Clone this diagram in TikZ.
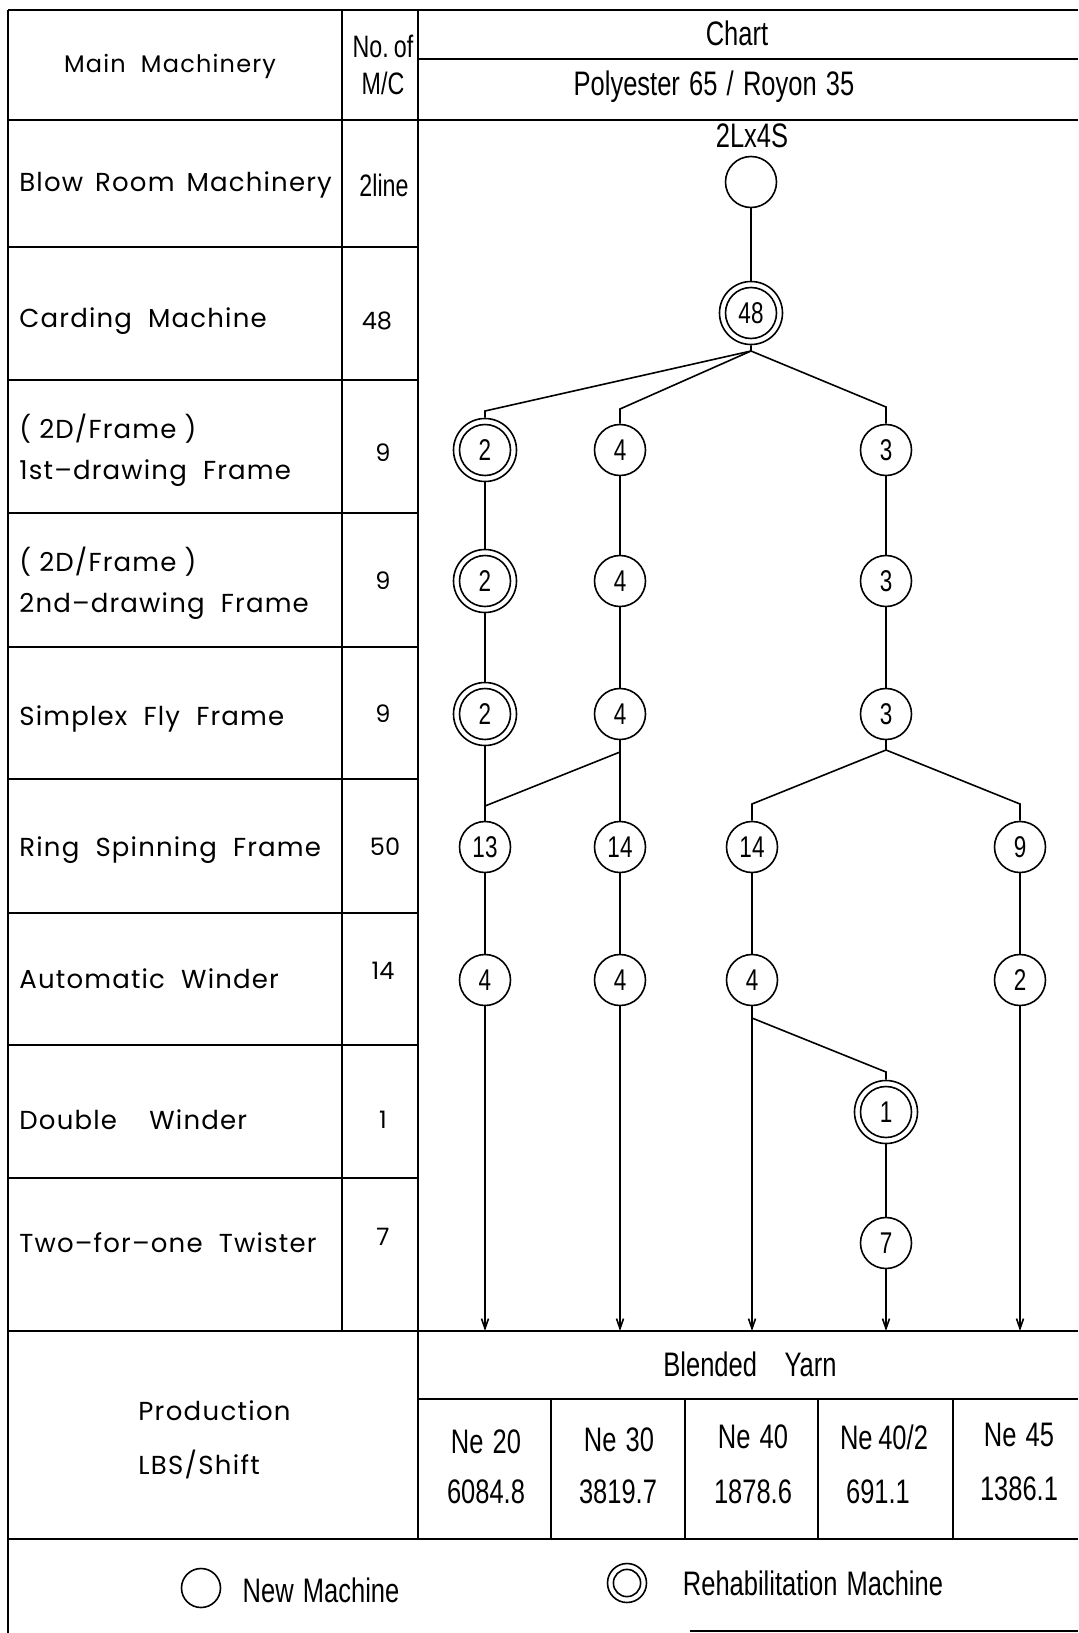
\documentclass[tikz,border=0pt]{standalone}
\usepackage{fontspec}
\setmainfont{Poppins}
\newfontfamily\wf[LetterSpace=5]{Poppins}
\newfontfamily\lf[LetterSpace=4.5]{Poppins}
\newfontfamily\cf[FakeStretch=0.75,WordSpace=1.3]{Liberation Sans}
\usetikzlibrary{arrows.meta}
\begin{document}
\begin{tikzpicture}[x=0.5pt,y=-0.5pt,
  frame/.style={line width=0.8pt},
  conn/.style={line width=0.8pt},
  flow/.style={conn,-{Straight Barb[length=5pt,width=3.5pt]}},
  newm/.style={circle,draw,line width=0.8pt,minimum size=25.5pt,inner sep=0pt,font=\cf\fontsize{15}{15}\selectfont},
  rehab/.style={newm,minimum size=31.5pt,path picture={\draw[line width=0.8pt] (path picture bounding box.center) circle (#1);}},
  rehab/.default=12.75pt,
  lab/.style={anchor=west,inner sep=0pt,font=\lf\fontsize{13}{20.5}\selectfont,align=left},
  wtxt/.style={inner sep=0pt,font=\wf\fontsize{12}{14}\selectfont},
  num/.style={inner sep=0pt,font=\fontsize{12}{14}\selectfont},
  ctxt/.style={inner sep=0pt,font=\cf\fontsize{17}{19}\selectfont},
  stxt/.style={inner sep=0pt,font=\cf\fontsize{15.5}{17}\selectfont},
]
\useasboundingbox (0,0) rectangle (1078,1633);
% ---------- table frame ----------
\draw[frame] (8,10) -- (1078,10);
\draw[frame] (8,10) -- (8,1633);
\draw[frame] (690,1631) -- (1078,1631);
\draw[frame] (342,10) -- (342,1331);
\draw[frame] (418,10) -- (418,1539);
\draw[frame] (8,120) -- (1078,120);
\draw[frame] (418,59) -- (1078,59);
\foreach \y in {247,380,513,647,779,913,1045,1178} \draw[frame] (8,\y) -- (418,\y);
\draw[frame] (8,1331) -- (1078,1331);
\draw[frame] (418,1399) -- (1078,1399);
\foreach \x in {551,685,818,953} \draw[frame] (\x,1399) -- (\x,1539);
\draw[frame] (8,1539) -- (1078,1539);
% ---------- header ----------
\node[wtxt] (hmain) at (170,66) {Main\ \ Machinery};
\node[stxt] (hno) at (383,46) {No.\,of};
\node[stxt] (hmc) at (383,83) {M/C};
\node[ctxt] (hchart) at (737,33) {Chart};
\node[ctxt] (hpoly) at (714,87) {Polyester 65 / Royon 35};
% ---------- left labels ----------
\node[lab] (l1) at (19,185) {Blow\hspace{6pt}Room\hspace{6pt}Machinery};
\node[lab] (l2) at (19,321) {Carding\ \ Machine};
\node[lab] (l3) at (19,450) {(\ 2D/Frame\ )\\1st–drawing\ \ Frame};
\node[lab] (l4) at (19,583) {(\ 2D/Frame\ )\\2nd–drawing\ \ Frame};
\node[lab] (l5) at (19,719) {Simplex\ \ Fly\ \ Frame};
\node[lab] (l6) at (19,850) {Ring\ \ Spinning\ \ Frame};
\node[lab] (l7) at (19,979) {Automatic\ \ Winder};
\node[lab] (l8) at (19,1120) {Double\ \ \ \ Winder};
\node[lab] (l9) at (19,1243) {Two–for–one\ \ Twister};
% ---------- number of machines ----------
\node[stxt] (m1) at (384,185) {2line};
\node[num] (m2) at (377,321) {48};
\node[num] (m3) at (383,453) {9};
\node[num] (m4) at (383,581) {9};
\node[num] (m5) at (383,714) {9};
\node[num] (m6) at (385,847) {50};
\node[num] (m7) at (383,971) {14};
\node[num] (m8) at (383,1120) {1};
\node[num] (m9) at (383,1237) {7};
% ---------- chart nodes ----------
\node[ctxt] (t2l) at (752,136) {2Lx4S};
\node[newm] (top) at (751,182) {};
\node[rehab] (n48) at (751,313) {48};
\node[rehab] (a1) at (485,450) {2};
\node[rehab] (a2) at (485,581) {2};
\node[rehab] (a3) at (485,714) {2};
\node[newm] (a4) at (485,847) {13};
\node[newm] (a5) at (485,980) {4};
\node[newm] (b1) at (620,450) {4};
\node[newm] (b2) at (620,581) {4};
\node[newm] (b3) at (620,714) {4};
\node[newm] (b4) at (620,847) {14};
\node[newm] (b5) at (620,980) {4};
\node[newm] (d1) at (886,450) {3};
\node[newm] (d2) at (886,581) {3};
\node[newm] (d3) at (886,714) {3};
\node[newm] (c4) at (752,847) {14};
\node[newm] (c5) at (752,980) {4};
\node[newm] (e4) at (1020,847) {9};
\node[newm] (e5) at (1020,980) {2};
\node[rehab] (d6) at (886,1112) {1};
\node[newm] (d7) at (886,1243) {7};
% ---------- junctions ----------
\coordinate (j1) at (751,351);
\coordinate (ja) at (485,411);
\coordinate (jb) at (620,409);
\coordinate (jd) at (886,407);
\coordinate (k3) at (620,752);
\coordinate (ka) at (485,806);
\coordinate (m3j) at (886,750);
\coordinate (mc) at (752,804);
\coordinate (me) at (1020,804);
\coordinate (w5) at (752,1018);
\coordinate (wd) at (886,1072);
\coordinate (ea) at (485,1331);
\coordinate (eb) at (620,1331);
\coordinate (ec) at (752,1331);
\coordinate (ed) at (886,1331);
\coordinate (ee) at (1020,1331);
% ---------- connectors ----------
\draw[conn] (top) -- (n48);
\draw[conn] (n48) -- (j1) -- (ja) -- (a1);
\draw[conn] (j1) -- (jb) -- (b1);
\draw[conn] (j1) -- (jd) -- (d1);
\draw[conn] (a1) -- (a2);
\draw[conn] (a2) -- (a3);
\draw[conn] (a3) -- (a4);
\draw[conn] (a4) -- (a5);
\draw[flow] (a5) -- (ea);
\draw[conn] (b1) -- (b2);
\draw[conn] (b2) -- (b3);
\draw[conn] (b3) -- (b4);
\draw[conn] (b4) -- (b5);
\draw[flow] (b5) -- (eb);
\draw[conn] (k3) -- (ka);
\draw[conn] (d1) -- (d2);
\draw[conn] (d2) -- (d3);
\draw[conn] (d3) -- (m3j);
\draw[conn] (m3j) -- (mc) -- (c4);
\draw[conn] (m3j) -- (me) -- (e4);
\draw[conn] (c4) -- (c5);
\draw[flow] (c5) -- (ec);
\draw[conn] (w5) -- (wd) -- (d6);
\draw[conn] (d6) -- (d7);
\draw[flow] (d7) -- (ed);
\draw[conn] (e4) -- (e5);
\draw[flow] (e5) -- (ee);
% ---------- production ----------
\node[wtxt,anchor=west,font=\wf\fontsize{13}{14}\selectfont] (prod1) at (138,1411) {Production};
\node[wtxt,anchor=west,font=\wf\fontsize{13}{14}\selectfont] (prod2) at (138,1464) {LBS/Shift};
\node[ctxt] (blend) at (750,1364) {Blended\ \ \ Yarn};
\node[ctxt] (ne1) at (486,1442) {Ne 20};
\node[ctxt] (pv1) at (486,1492) {6084.8};
\node[ctxt] (ne2) at (619,1440) {Ne 30};
\node[ctxt] (pv2) at (618,1492) {3819.7};
\node[ctxt] (ne3) at (753,1437) {Ne 40};
\node[ctxt] (pv3) at (753,1492) {1878.6};
\node[ctxt] (ne4) at (884,1437) {Ne\,40/2};
\node[ctxt] (pv4) at (878,1492) {691.1};
\node[ctxt] (ne5) at (1019,1435) {Ne 45};
\node[ctxt] (pv5) at (1019,1489) {1386.1};
% ---------- legend ----------
\node[newm,minimum size=19.5pt] (lgnew) at (201,1588) {};
\node[ctxt] (lgnewt) at (321,1590) {New Machine};
\node[rehab=6.8pt,minimum size=19.5pt] (lgreh) at (627,1583) {};
\node[ctxt] (lgreht) at (813,1583) {Rehabilitation Machine};
\end{tikzpicture}
\end{document}
